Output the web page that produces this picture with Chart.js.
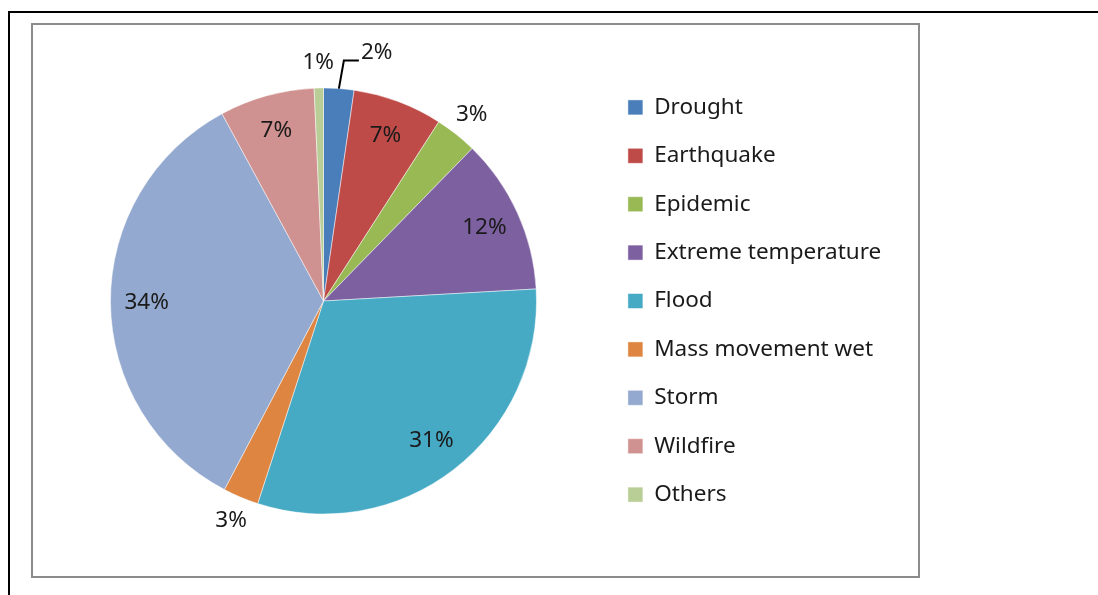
<!DOCTYPE html>
<html>
<head>
<meta charset="utf-8">
<title>Disaster types</title>
<script src="https://cdn.jsdelivr.net/npm/chart.js@4.4.1/dist/chart.umd.min.js"></script>
<style>
  html, body { margin: 0; padding: 0; background: #ffffff; }
  #wrap { position: relative; width: 1098px; height: 595px; overflow: hidden; }
  /* page frame: only its left and top edges fall inside the view */
  #outer { position: absolute; left: 8px; top: 11px; width: 2000px; height: 2000px;
           border-left: 2px solid #000; border-top: 2px solid #000; }
  /* chart area frame */
  #frame { position: absolute; left: 31px; top: 23px; width: 885px; height: 551px;
           border: 2px solid #8c8c8c; }
  canvas { position: absolute; left: 0; top: 0; }
</style>
</head>
<body>
<div id="wrap">
  <div id="outer"></div>
  <div id="frame"></div>
  <canvas id="chart" width="1098" height="595"></canvas>
</div>
<script>
// Share of disaster events by type (percent)
const categories = ['Drought', 'Earthquake', 'Epidemic', 'Extreme temperature', 'Flood',
                    'Mass movement wet', 'Storm', 'Wildfire', 'Others'];
const shares = [2.3, 6.8, 3.2, 11.8, 30.9, 2.7, 34.4, 7.2, 0.7];
const sliceColors = ['#4a7ebb', '#be4b48', '#98b954', '#7d60a0', '#46aac5',
                     '#dd8541', '#93a9cf', '#d09291', '#b9cd96'];
// where each percentage label sits relative to its slice
const labelPlacement = ['leader', 'inside', 'outside', 'inside', 'inside',
                        'outside', 'inside', 'inside', 'outside'];

const FONT = '"Noto Sans", "DejaVu Sans", sans-serif';
const TEXT_COLOR = '#1a1a1a';
const PIE_RADIUS = 213;
const LEGEND_SLOT = 496;   // width reserved on the right for the legend

// Keeps the legend column at a fixed width so the pie and the legend sit in set places
const legendSlot = {
  id: 'legendSlot',
  beforeLayout(chart) {
    const lg = chart.legend;
    if (lg && !lg._slotFixed) {
      const fit = lg.fit;
      lg.fit = function () { fit.call(this); this.width = LEGEND_SLOT; };
      lg._slotFixed = true;
    }
  }
};

// Percentage labels inside / outside the slices, with a leader line where needed
const pieLabels = {
  id: 'pieLabels',
  afterDatasetsDraw(chart) {
    const ctx = chart.ctx;
    const meta = chart.getDatasetMeta(0);
    const values = chart.data.datasets[0].data;
    const total = values.reduce((a, b) => a + b, 0);
    ctx.save();
    ctx.font = '22.5px ' + FONT;
    ctx.fillStyle = TEXT_COLOR;
    ctx.strokeStyle = '#000';
    ctx.lineWidth = 2;
    ctx.textBaseline = 'middle';
    meta.data.forEach((arc, i) => {
      const p = arc.getProps(['x', 'y', 'startAngle', 'endAngle', 'outerRadius'], true);
      const mid = (p.startAngle + p.endAngle) / 2;
      const text = Math.round(values[i] / total * 100) + '%';
      const mode = labelPlacement[i];
      if (mode === 'leader') {
        const ax = p.x + p.outerRadius * Math.cos(mid);
        const ay = p.y + p.outerRadius * Math.sin(mid);
        const ex = ax + 5, ey = ay - 28;
        ctx.beginPath();
        ctx.moveTo(ax, ay);
        ctx.lineTo(ex, ey);
        ctx.lineTo(ex + 15, ey);
        ctx.stroke();
        ctx.textAlign = 'left';
        ctx.fillText(text, ex + 17, ey - 8);
      } else {
        const r = mode === 'inside' ? p.outerRadius * 0.83 : p.outerRadius + 25;
        ctx.textAlign = 'center';
        ctx.fillText(text, p.x + r * Math.cos(mid), p.y + r * Math.sin(mid));
      }
    });
    ctx.restore();
  }
};

new Chart(document.getElementById('chart'), {
  type: 'pie',
  data: {
    labels: categories,
    datasets: [{
      data: shares,
      backgroundColor: sliceColors,
      borderColor: 'rgba(255,255,255,0.6)',
      borderWidth: 0.8,
      radius: PIE_RADIUS
    }]
  },
  options: {
    responsive: false,
    animation: false,
    layout: { padding: { left: 45, right: 0, top: 30, bottom: 23 } },
    plugins: {
      legend: {
        position: 'right',
        align: 'center',
        labels: {
          boxWidth: 15,
          boxHeight: 15,
          padding: 25.9,
          color: TEXT_COLOR,
          font: { family: FONT, size: 22.5 }
        }
      },
      tooltip: { enabled: false }
    }
  },
  plugins: [legendSlot, pieLabels]
});
</script>
</body>
</html>
